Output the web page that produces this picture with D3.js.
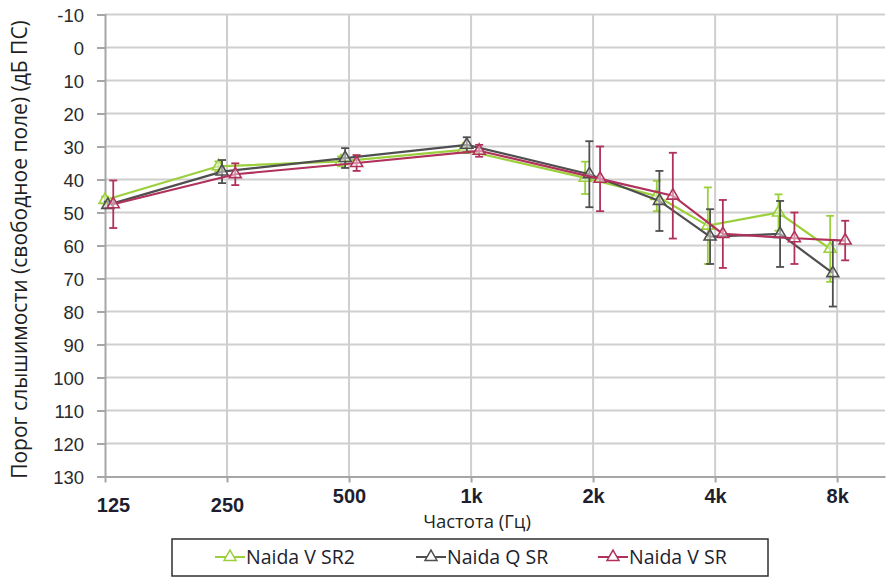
<!DOCTYPE html>
<html>
<head>
<meta charset="utf-8">
<script src="https://cdn.jsdelivr.net/npm/d3@7"></script>
<style>
  body { margin: 0; background: #fff; }
  svg { display: block; font-family: "Open Sans", sans-serif; }
</style>
</head>
<body>
<svg id="chart"></svg>
<script>
// chart data
var tickFreqs = [125, 250, 500, 1000, 2000, 4000, 8000];
var tickNames = ["125", "250", "500", "1k", "2k", "4k", "8k"];
var yTicks = [-10, 0, 10, 20, 30, 40, 50, 60, 70, 80, 90, 100, 110, 120, 130];

var seriesNames = ["Naida V SR2", "Naida Q SR", "Naida V SR"];

// x values are a bit shifted per series, like in the original sheet
var sr2Freq = [125, 238, 478, 956, 1912, 2872, 3838, 5733, 7689];
var sr2Val  = [46.2, 36, 34.5, 31, 39.5, 45, 54, 50, 61];
var sr2Err  = [1, 1.5, 1.5, 1, 4.9, 4.6, 11.6, 5.5, 10];

var qFreq = [127, 243, 489, 976, 1958, 2915, 3887, 5786, 7807];
var qVal  = [47.7, 37.6, 33.5, 29.5, 38.4, 46.5, 57.3, 56.5, 68.4];
var qErr  = [1, 3.5, 3, 2.3, 10, 9.1, 8.3, 10, 10.1];

var vFreq = [131, 262, 522, 1047, 2081, 3146, 4180, 6277, 8374];
var vVal  = [47.5, 38.4, 35, 31.3, 39.8, 44.9, 56.5, 57.8, 58.5];
var vErr  = [7.2, 3.3, 2.4, 1.8, 9.8, 13, 10.3, 7.8, 6];

var colors = ["#9bcf3c", "#4f4f4f", "#b0325a"];

var width = 888, height = 577;
var margin = {top: 14.5, right: 3, bottom: 100.5, left: 105};

var svg = d3.select("#chart")
    .attr("width", width)
    .attr("height", height);

var x = d3.scaleLog().base(2)
    .domain([125, 10500])
    .range([margin.left, width - margin.right]);

var y = d3.scaleLinear()
    .domain([-10, 130])
    .range([margin.top, height - margin.bottom]);

function pack(fr, vals, errs) {
  return fr.map((f, i) => ({f: f, v: vals[i], e: errs[i]}));
}
var series = [
  pack(sr2Freq, sr2Val, sr2Err),
  pack(qFreq, qVal, qErr),
  pack(vFreq, vVal, vErr)
];

// gridlines
svg.append("g")
  .selectAll("line")
  .data(yTicks.slice(0, -1))
  .enter().append("line")
    .attr("x1", margin.left)
    .attr("x2", width - margin.right)
    .attr("y1", d => y(d))
    .attr("y2", d => y(d))
    .attr("stroke", "#cfcfcf")
    .attr("stroke-width", 2);

svg.append("g")
  .selectAll("line")
  .data(tickFreqs.slice(1))
  .enter().append("line")
    .attr("x1", d => x(d))
    .attr("x2", d => x(d))
    .attr("y1", margin.top)
    .attr("y2", y(130))
    .attr("stroke", "#cfcfcf")
    .attr("stroke-width", 2);

// y axis
var yAxis = svg.append("g")
    .attr("transform", `translate(${margin.left},0)`)
    .call(d3.axisLeft(y).tickValues(yTicks).tickFormat(d => String(d)).tickSize(8).tickPadding(13));
yAxis.select(".domain").attr("stroke", "#a6a6a6").attr("stroke-width", 2);
yAxis.selectAll(".tick line").attr("stroke", "#a6a6a6").attr("stroke-width", 2);
yAxis.selectAll("text")
    .attr("fill", "#2b2b2b")
    .style("font-size", "18.5px")
    .attr("dy", "0.4em");

// x axis
var xAxis = svg.append("g")
    .attr("transform", `translate(0,${y(130)})`)
    .call(d3.axisBottom(x).tickValues(tickFreqs).tickFormat((d, i) => tickNames[i]).tickSize(6).tickSizeOuter(0));
xAxis.select(".domain").attr("stroke", "#a6a6a6").attr("stroke-width", 2);
xAxis.selectAll(".tick line").attr("stroke", "#a6a6a6").attr("stroke-width", 2);
xAxis.selectAll("text")
    .attr("fill", "#1e1e2e")
    .style("font-size", "20px")
    .style("font-weight", 600)
    .attr("dx", d => d == 125 ? 8 : 0)
    .attr("y", d => d < 500 ? 21 : 12)
    .attr("dy", "0.71em");

// axis titles
svg.append("text")
    .attr("transform", `translate(27,${(y(-10) + y(130)) / 2 + 4}) rotate(-90)`)
    .attr("text-anchor", "middle")
    .attr("fill", "#1f1f1f")
    .style("font-size", "21px")
    .text("Порог слышимости (свободное поле) (дБ ПС)");

svg.append("text")
    .attr("x", 477)
    .attr("y", 528)
    .attr("text-anchor", "middle")
    .attr("fill", "#1f1f1f")
    .style("font-size", "18.5px")
    .text("Частота (Гц)");

// series: lines, error bars, markers
var line = d3.line()
    .x(d => x(d.f))
    .y(d => y(d.v));

var tri = d3.symbol().type(d3.symbolTriangle).size(62);

series.forEach((s, k) => {
  var g = svg.append("g").attr("stroke", colors[k]);

  g.append("path")
      .datum(s)
      .attr("fill", "none")
      .attr("stroke-width", 2.2)
      .attr("d", line);

  var bars = g.selectAll(".err")
    .data(s)
    .enter().append("g")
      .attr("class", "err")
      .attr("stroke-width", 1.8);
  bars.append("line")
      .attr("x1", d => x(d.f)).attr("x2", d => x(d.f))
      .attr("y1", d => y(d.v - d.e)).attr("y2", d => y(d.v + d.e));
  bars.append("line")
      .attr("x1", d => x(d.f) - 4).attr("x2", d => x(d.f) + 4)
      .attr("y1", d => y(d.v - d.e)).attr("y2", d => y(d.v - d.e));
  bars.append("line")
      .attr("x1", d => x(d.f) - 4).attr("x2", d => x(d.f) + 4)
      .attr("y1", d => y(d.v + d.e)).attr("y2", d => y(d.v + d.e));

  g.selectAll(".mark")
    .data(s)
    .enter().append("path")
      .attr("class", "mark")
      .attr("transform", d => `translate(${x(d.f)},${y(d.v)})`)
      .attr("d", tri)
      .attr("fill", "#fff")
      .attr("fill-opacity", 0.45)
      .attr("stroke-width", 1.6);
});

// legend
var legend = svg.append("g");
legend.append("rect")
    .attr("x", 172)
    .attr("y", 539)
    .attr("width", 596)
    .attr("height", 37)
    .attr("fill", "#fff")
    .attr("stroke", "#2f2f2f")
    .attr("stroke-width", 1.5);

var legX = [215, 416, 598];
var item = legend.selectAll(".item")
  .data(seriesNames)
  .enter().append("g")
    .attr("class", "item")
    .attr("transform", (d, i) => `translate(${legX[i]},557)`);
item.append("line")
    .attr("x1", 0).attr("x2", 30)
    .attr("stroke", (d, i) => colors[i])
    .attr("stroke-width", 2);
item.append("path")
    .attr("transform", "translate(15,0)")
    .attr("d", tri)
    .attr("fill", "#fff")
    .attr("stroke", (d, i) => colors[i])
    .attr("stroke-width", 1.5);
item.append("text")
    .attr("x", 31)
    .attr("dy", "0.36em")
    .attr("fill", "#1e1e2e")
    .style("font-size", "19.5px")
    .text(d => d);
</script>
</body>
</html>
